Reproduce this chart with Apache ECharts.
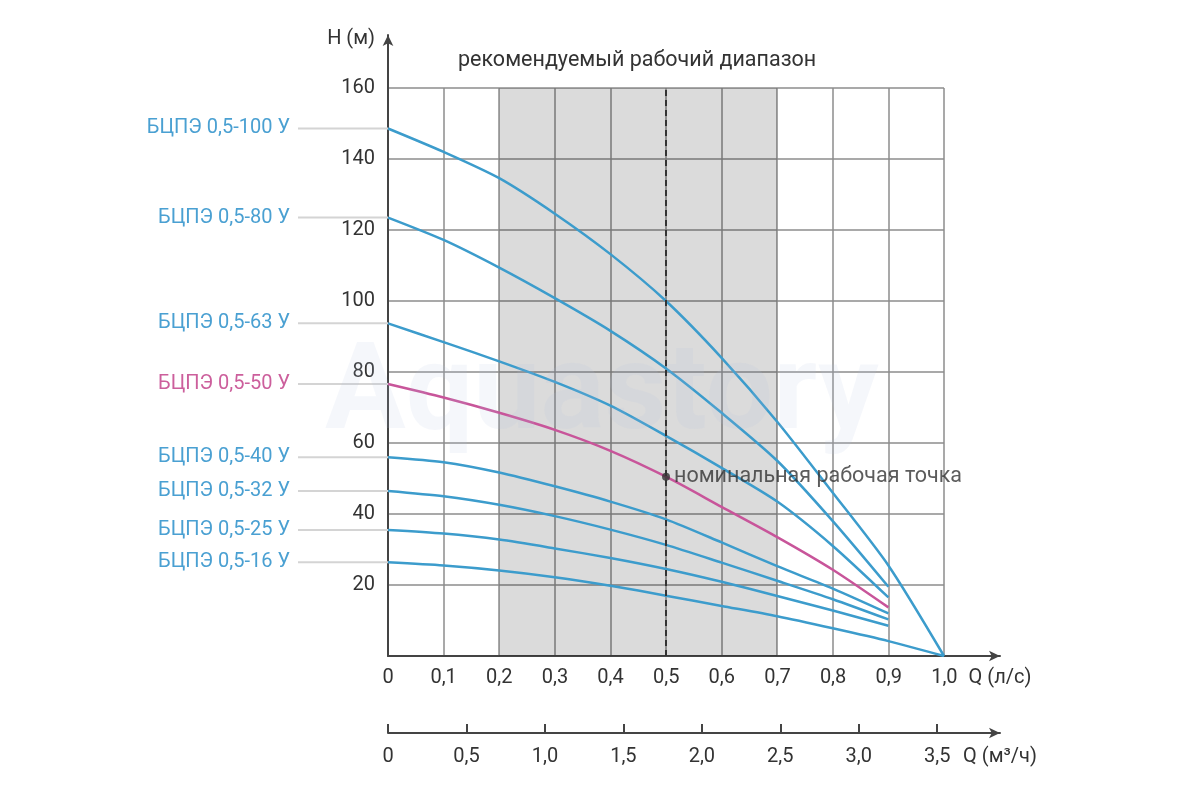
<!DOCTYPE html>
<html>
<head>
<meta charset="utf-8">
<title></title>
<script src="https://cdn.jsdelivr.net/npm/echarts@6/dist/echarts.min.js"></script>
</head>
<body style="margin:0">
<div id="main" style="width:1200px;height:800px;"></div>
<script>
// расход, л/с
var flow = [0, 0.1, 0.2, 0.3, 0.4, 0.5, 0.6, 0.7, 0.8, 0.9, 1.0];
// напор, м
var h100 = [148.6, 142, 134.6, 124.6, 113.2, 100, 84, 66, 46, 25.5, 0];
var h80 = [123.5, 117.2, 109.4, 100.8, 91.6, 81, 68.5, 55, 38, 19.5];
var h63 = [93.7, 88.4, 83, 77.2, 70.5, 62, 53, 43.5, 31, 16.5];
var h50 = [76.6, 72.8, 68.5, 63.7, 57.8, 50.5, 42, 33.5, 24.3, 13.7];
var h40 = [56, 54.6, 51.7, 47.8, 43.5, 38.5, 32, 25.3, 19, 12];
var h32 = [46.5, 45, 42.6, 39.4, 35.6, 31.3, 26.3, 21.2, 16, 10.3];
var h25 = [35.5, 34.5, 32.8, 30.3, 27.6, 24.5, 20.9, 16.9, 12.8, 8.5];
var h16 = [26.4, 25.5, 24.1, 22.2, 19.8, 17, 14.1, 11.2, 7.8, 4.2, 0];

var pumps = ['БЦПЭ 0,5-100 У', 'БЦПЭ 0,5-80 У', 'БЦПЭ 0,5-63 У', 'БЦПЭ 0,5-50 У',
  'БЦПЭ 0,5-40 У', 'БЦПЭ 0,5-32 У', 'БЦПЭ 0,5-25 У', 'БЦПЭ 0,5-16 У'];
var heads = [h100, h80, h63, h50, h40, h32, h25, h16];
var highlighted = 'БЦПЭ 0,5-50 У';

var nominal = [0.5, 50.5];
var rangeLs = [0.2, 0.7];
var ticksLs = [0, 0.1, 0.2, 0.3, 0.4, 0.5, 0.6, 0.7, 0.8, 0.9, 1.0];
var ticksM3h = [0, 0.5, 1.0, 1.5, 2.0, 2.5, 3.0, 3.5];

var FONT = 'Roboto';
var BLUE = '#3c9ccc', PINK = '#c8559a';
var BLUE_TXT = '#4aa0d2', PINK_TXT = '#cc5f9c';

function comma(v) {
  return v === 0 ? '0' : v.toFixed(1).replace('.', ',');
}

var series = [];
pumps.forEach(function (name, i) {
  var hl = name === highlighted;
  var h = heads[i];
  series.push({
    name: name,
    type: 'line',
    xAxisIndex: 0,
    yAxisIndex: 0,
    smooth: 0.25,
    showSymbol: false,
    z: hl ? 4 : 3,
    lineStyle: { color: hl ? PINK : BLUE, width: 2.5 },
    data: h.map(function (v, j) { return [flow[j], v]; })
  });
  // выноска с названием насоса
  series.push({
    type: 'line',
    xAxisIndex: 3,
    yAxisIndex: 3,
    symbol: 'circle',
    symbolSize: 0,
    lineStyle: { color: '#d4d4d4', width: 2 },
    data: [
      { value: [0, h[0]], label: { show: true, position: 'left', distance: 8, formatter: name,
        color: hl ? PINK_TXT : BLUE_TXT, fontSize: 20, fontFamily: FONT } },
      [1, h[0]]
    ]
  });
});

series.push({
  type: 'scatter',
  xAxisIndex: 0,
  yAxisIndex: 0,
  z: 5,
  symbolSize: 8,
  itemStyle: { color: '#333' },
  label: { show: true, position: 'right', distance: 4, formatter: 'номинальная рабочая точка',
    color: '#333', fontSize: 21.5, fontFamily: FONT },
  data: [nominal],
  markArea: {
    silent: true,
    itemStyle: { color: 'rgba(0,0,0,0.14)' },
    data: [[{ xAxis: rangeLs[0] }, { xAxis: rangeLs[1] }]]
  },
  markLine: {
    silent: true,
    symbol: ['none', 'none'],
    label: { show: false },
    lineStyle: { color: '#333', width: 2, type: [6, 4] },
    data: [{ xAxis: nominal[0] }]
  }
});

var chart = echarts.init(document.getElementById('main'));
chart.setOption({
  animation: false,
  backgroundColor: '#fff',
  textStyle: { fontFamily: FONT },
  graphic: [
    { type: 'text', left: 458, top: 50, z: 10,
      style: { text: 'рекомендуемый рабочий диапазон', fill: '#333', font: '21.5px Roboto' } },
    { type: 'text', left: 325, top: 338, z: 20, silent: true,
      style: { text: 'Aquastory', fill: 'rgba(175,195,225,0.13)', font: 'bold 120px Roboto' } }
  ],
  grid: [
    { left: 388, right: 256, top: 88, bottom: 144 },
    { left: 388, right: 200, top: 35, bottom: 144 },
    { left: 388, right: 200, top: 732, bottom: 67 },
    { left: 298, right: 812, top: 88, bottom: 144 }
  ],
  xAxis: [
    { gridIndex: 0, type: 'value', min: 0, max: 1, interval: 0.1,
      axisLine: { show: false }, axisTick: { show: false }, axisLabel: { show: false },
      splitLine: { lineStyle: { color: '#8c8c8c', width: 1.5 } } },
    { gridIndex: 1, type: 'value', min: 0, max: 1.1,
      axisLine: { show: true, symbol: ['none', 'arrow'], symbolSize: [8, 11],
        lineStyle: { color: '#444', width: 2 } },
      axisTick: { show: false }, splitLine: { show: false },
      axisLabel: { customValues: ticksLs.concat([1.1]), margin: 12, fontSize: 20, color: '#333',
        formatter: function (v) { return v > 1.05 ? 'Q (л/с)' : comma(v); } } },
    { gridIndex: 2, type: 'value', min: 0, max: 3.9,
      axisLine: { show: true, symbol: ['none', 'arrow'], symbolSize: [8, 11],
        lineStyle: { color: '#444', width: 2 } },
      axisTick: { show: true, inside: true, length: 9, customValues: ticksM3h,
        lineStyle: { color: '#444', width: 2 } },
      splitLine: { show: false },
      axisLabel: { customValues: ticksM3h.concat([3.9]), margin: 14, fontSize: 20, color: '#333',
        formatter: function (v) { return v > 3.7 ? 'Q (м³/ч)' : comma(v); } } },
    { gridIndex: 3, type: 'value', min: 0, max: 1, show: false }
  ],
  yAxis: [
    { gridIndex: 0, type: 'value', min: 0, max: 160, interval: 20,
      axisLine: { show: false }, axisTick: { show: false },
      axisLabel: { margin: 13, fontSize: 20, color: '#333',
        formatter: function (v) { return v === 0 ? '' : v; } },
      splitLine: { lineStyle: { color: '#8c8c8c', width: 1.5 } } },
    { gridIndex: 1, type: 'value', min: 0, max: 175,
      axisLine: { show: true, symbol: ['none', 'arrow'], symbolSize: [8, 11],
        lineStyle: { color: '#444', width: 2 } },
      axisTick: { show: false }, splitLine: { show: false },
      axisLabel: { customValues: [174], margin: 13, fontSize: 20, color: '#333',
        formatter: function () { return 'H (м)'; } } },
    { gridIndex: 2, type: 'value', show: false },
    { gridIndex: 3, type: 'value', min: 0, max: 160, show: false }
  ],
  series: series
});
</script>
</body>
</html>
